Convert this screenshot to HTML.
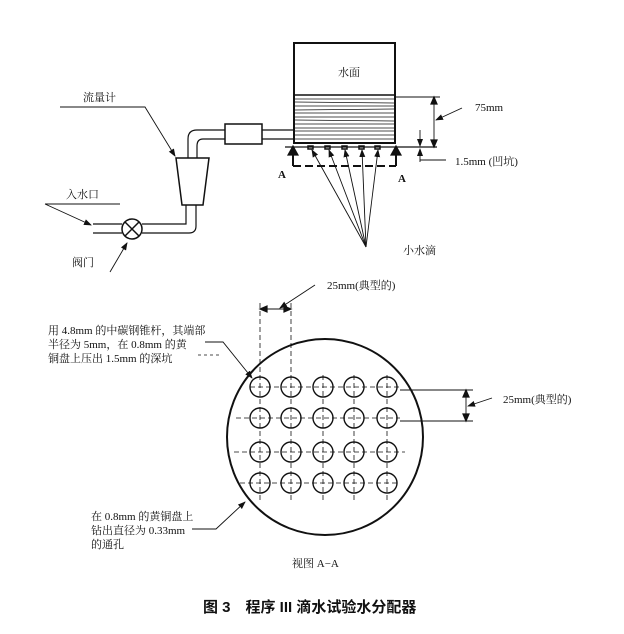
<!DOCTYPE html>
<html><head><meta charset="utf-8"><style>
body{margin:0;background:#fff}
svg text{font-family:"Liberation Serif","Noto Serif CJK SC",serif;fill:#111}
</style></head><body>
<svg width="624" height="629" viewBox="0 0 624 629" xmlns="http://www.w3.org/2000/svg">
<defs><marker id="ar" markerWidth="8" markerHeight="8" refX="7" refY="4" orient="auto" markerUnits="userSpaceOnUse"><path d="M0,1 L8,4 L0,7z" fill="#111"/></marker></defs>
<g stroke="#111" fill="none" stroke-width="1.2">
<!-- tank -->
<rect x="294" y="43" width="101" height="100" stroke-width="2"/>
<g stroke-width="0.8">
<line x1="294" y1="95" x2="395" y2="95" stroke-width="1.5"/>
<line x1="295" y1="99" x2="394" y2="99"/><line x1="295" y1="102" x2="394" y2="103"/><line x1="295" y1="106" x2="394" y2="106"/><line x1="295" y1="110" x2="394" y2="109"/><line x1="295" y1="113" x2="394" y2="113"/><line x1="295" y1="117" x2="394" y2="117"/><line x1="295" y1="120" x2="394" y2="121"/><line x1="295" y1="124" x2="394" y2="124"/><line x1="295" y1="128" x2="394" y2="128"/><line x1="295" y1="131" x2="394" y2="131"/><line x1="295" y1="135" x2="394" y2="135"/><line x1="295" y1="139" x2="394" y2="139"/>
</g>
<line x1="285" y1="147" x2="437" y2="147"/>
<g stroke-width="1.5"><rect x="308" y="146" width="5" height="3"/><rect x="325" y="146" width="5" height="3"/><rect x="342" y="146" width="5" height="3"/><rect x="359" y="146" width="5" height="3"/><rect x="375" y="146" width="5" height="3"/></g>
<!-- section arrows -->
<path d="M293,166 V153 M396,166 V153" stroke-width="2"/>
<path d="M293,166 H396" stroke-width="2" stroke-dasharray="8,4"/>
<path d="M288,155 L293,146 L298,155z M391,155 L396,146 L401,155z" fill="#111"/>
<!-- droplets -->
<g stroke-width="0.9">
<line x1="366" y1="247" x2="312" y2="150" marker-end="url(#ar)"/>
<line x1="366" y1="247" x2="329" y2="150" marker-end="url(#ar)"/>
<line x1="366" y1="247" x2="345" y2="150" marker-end="url(#ar)"/>
<line x1="366" y1="247" x2="362" y2="150" marker-end="url(#ar)"/>
<line x1="366" y1="247" x2="378" y2="150" marker-end="url(#ar)"/>
</g>
<!-- dims -->
<line x1="396" y1="97" x2="440" y2="97" stroke-width="0.9"/>
<line x1="434" y1="97" x2="434" y2="147" stroke-width="0.9"/>
<path d="M431,104 L434,97 L437,104z M431,140 L434,147 L437,140z" fill="#111"/>
<line x1="420" y1="130" x2="420" y2="146" marker-end="url(#ar)" stroke-width="0.9"/>
<line x1="420" y1="162" x2="420" y2="149" marker-end="url(#ar)" stroke-width="0.9"/>
<line x1="420" y1="160" x2="446" y2="160" stroke-width="0.9"/>
<line x1="462" y1="108" x2="436" y2="120" marker-end="url(#ar)" stroke-width="0.9"/>
<!-- pipes -->
<path d="M294,130 H262 M294,139 H262" />
<rect x="225" y="124" width="37" height="20" stroke-width="1.5"/>
<path d="M225,130 H197 Q188,130 188,139 V158 M225,139 H203 Q197,139 197,146 V158"/>
<path d="M176,158 H209 L203,205 H182z" stroke-width="1.5"/>
<path d="M186,205 V224 Q186,224 184,224 H142 M196,205 V226 Q196,233 189,233 H142"/>
<path d="M122,224 H93 M122,233 H93"/>
<circle cx="132" cy="229" r="10" stroke-width="1.5"/>
<path d="M125,222 L139,236 M139,222 L125,236" stroke-width="1.5"/>
<path d="M60,107 H145 L175,156" stroke-width="0.9" marker-end="url(#ar)"/>
<path d="M45,204 H120 M45,204 L91,225" stroke-width="0.9" marker-end="url(#ar)"/>
<path d="M110,272 L127,243" stroke-width="0.9" marker-end="url(#ar)"/>
<!-- bottom view -->
<circle cx="325" cy="437" r="98" stroke-width="2"/>
<g stroke-width="0.8" stroke-dasharray="5,3">
<line x1="250" y1="387" x2="400" y2="387"/><line x1="236" y1="418" x2="400" y2="418"/><line x1="234" y1="452" x2="405" y2="452"/><line x1="240" y1="483" x2="400" y2="483"/>
<line x1="260" y1="303" x2="260" y2="500"/><line x1="291" y1="303" x2="291" y2="500"/><line x1="323" y1="375" x2="323" y2="500"/><line x1="354" y1="375" x2="354" y2="500"/><line x1="387" y1="375" x2="387" y2="500"/>
</g>
<g stroke-width="1.4">
<circle cx="260" cy="387" r="10"/><circle cx="291" cy="387" r="10"/><circle cx="323" cy="387" r="10"/><circle cx="354" cy="387" r="10"/><circle cx="387" cy="387" r="10"/>
<circle cx="260" cy="418" r="10"/><circle cx="291" cy="418" r="10"/><circle cx="323" cy="418" r="10"/><circle cx="354" cy="418" r="10"/><circle cx="387" cy="418" r="10"/>
<circle cx="260" cy="452" r="10"/><circle cx="291" cy="452" r="10"/><circle cx="323" cy="452" r="10"/><circle cx="354" cy="452" r="10"/><circle cx="387" cy="452" r="10"/>
<circle cx="260" cy="483" r="10"/><circle cx="291" cy="483" r="10"/><circle cx="323" cy="483" r="10"/><circle cx="354" cy="483" r="10"/><circle cx="387" cy="483" r="10"/>
</g>
<line x1="260" y1="309" x2="291" y2="309" stroke-width="0.9"/>
<path d="M267,306 L260,309 L267,312z M284,306 L291,309 L284,312z" fill="#111"/>
<line x1="315" y1="285" x2="280" y2="308" stroke-width="0.9" marker-end="url(#ar)"/>
<path d="M400,390 H473 M400,421 H473 M466,390 V421" stroke-width="0.9"/>
<path d="M463,397 L466,390 L469,397z M463,414 L466,421 L469,414z" fill="#111"/>
<line x1="492" y1="398" x2="468" y2="406" stroke-width="0.9" marker-end="url(#ar)"/>
<path d="M205,342 H223 L252,378" stroke-width="0.9" marker-end="url(#ar)"/>
<line x1="198" y1="355" x2="220" y2="355" stroke-width="0.8" stroke-dasharray="3,3"/>
<path d="M192,529 H216 L245,502" stroke-width="0.9" marker-end="url(#ar)"/>
</g>
<g font-size="11">
<text x="338" y="76">水面</text>
<text x="475" y="111">75mm</text>
<text x="455" y="165">1.5mm (凹坑)</text>
<text x="278" y="178" font-weight="bold">A</text>
<text x="398" y="182" font-weight="bold">A</text>
<text x="403" y="254">小水滴</text>
<text x="83" y="101">流量计</text>
<text x="66" y="198">入水口</text>
<text x="72" y="266">阀门</text>
<text x="327" y="289">25mm(典型的)</text>
<text x="503" y="403">25mm(典型的)</text>
<text x="48" y="334">用 4.8mm 的中碳钢锥杆，其端部</text>
<text x="48" y="348">半径为 5mm，在 0.8mm 的黄</text>
<text x="48" y="362">铜盘上压出 1.5mm 的深坑</text>
<text x="91" y="520">在 0.8mm 的黄铜盘上</text>
<text x="91" y="534">钻出直径为 0.33mm</text>
<text x="91" y="548">的通孔</text>
<text x="292" y="567">视图 A−A</text>
</g>
<text x="203" y="612" font-size="15" font-weight="bold" style="font-family:'Liberation Sans','Noto Sans CJK SC',sans-serif">图 3　程序 III 滴水试验水分配器</text>
</svg>
</body></html>
